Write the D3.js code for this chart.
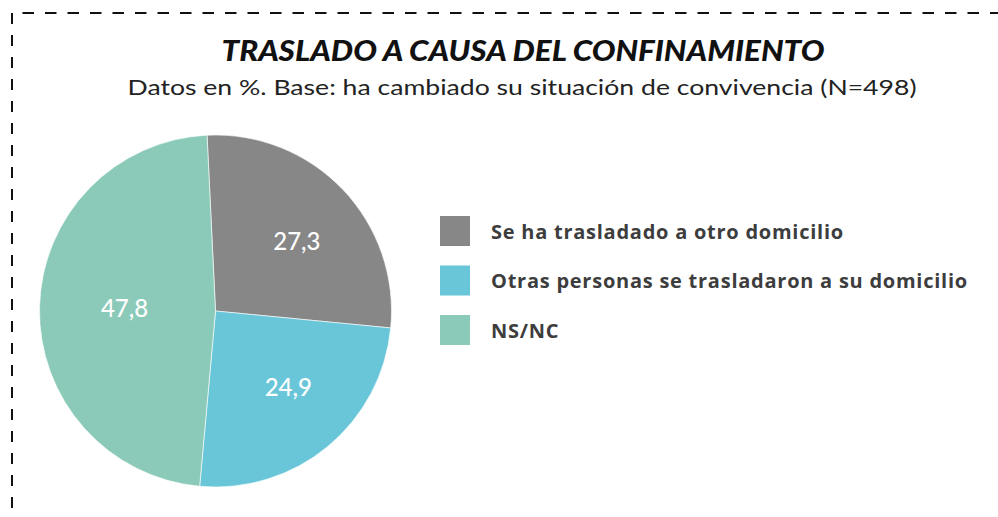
<!DOCTYPE html>
<html>
<head>
<meta charset="utf-8">
<script src="https://cdnjs.cloudflare.com/ajax/libs/d3/7.8.5/d3.min.js"></script>
<style>
  body { margin: 0; background: #fff; }
  svg { display: block; }
</style>
</head>
<body>
<div id="chart"></div>
<script>
var svgWidth = 998;
var svgHeight = 517;

// data
var categories = ["Se ha trasladado a otro domicilio",
                  "Otras personas se trasladaron a su domicilio",
                  "NS/NC"];
var values = [27.3, 24.9, 47.8];
var valueLabels = ["27,3", "24,9", "47,8"];
var colors = ["#878787", "#69c6d8", "#8bcab8"];

var title = "TRASLADO A CAUSA DEL CONFINAMIENTO";
var subtitle = "Datos en %. Base: ha cambiado su situación de convivencia (N=498)";

var svg = d3.select("#chart")
    .append("svg")
    .attr("width", svgWidth)
    .attr("height", svgHeight);

// dashed frame (left + top only visible)
svg.append("line")
    .attr("x1", 12).attr("y1", 13)
    .attr("x2", 12).attr("y2", svgHeight + 10)
    .attr("stroke", "#111")
    .attr("stroke-width", 2)
    .attr("stroke-dasharray", "11,11");

svg.append("line")
    .attr("x1", 22.5).attr("y1", 13)
    .attr("x2", svgWidth + 10).attr("y2", 13)
    .attr("stroke", "#111")
    .attr("stroke-width", 2)
    .attr("stroke-dasharray", "11.5,11");

// titles
svg.append("text")
    .attr("x", 523)
    .attr("y", 61)
    .attr("text-anchor", "middle")
    .attr("textLength", 603)
    .attr("lengthAdjust", "spacingAndGlyphs")
    .style("font-family", "Lato, sans-serif")
    .style("font-weight", "900")
    .style("font-style", "italic")
    .style("font-size", "28px")
    .style("fill", "#111")
    .text(title);

svg.append("text")
    .attr("x", 522)
    .attr("y", 95)
    .attr("text-anchor", "middle")
    .attr("textLength", 789)
    .attr("lengthAdjust", "spacingAndGlyphs")
    .style("font-family", "Lato, sans-serif")
    .style("font-weight", "400")
    .style("font-size", "22px")
    .style("fill", "#222")
    .text(subtitle);

// pie
var radius = 176;
var pieG = svg.append("g")
    .attr("transform", "translate(215.5, 311)");

var pie = d3.pie()
    .sort(null)
    .startAngle(-0.048)
    .endAngle(2 * Math.PI - 0.048)
    .value(d => d);

var arc = d3.arc().innerRadius(0).outerRadius(radius);
var labelArc = d3.arc().innerRadius(100).outerRadius(100);

var arcs = pie(values);

pieG.selectAll("path")
    .data(arcs)
    .enter()
    .append("path")
    .attr("d", arc)
    .attr("fill", (d, i) => colors[i])
    .attr("stroke", "#fff")
    .attr("stroke-width", 0.6);

pieG.selectAll(".sliceLabel")
    .data(arcs)
    .enter()
    .append("text")
    .attr("class", "sliceLabel")
    .attr("transform", d => "translate(" + labelArc.centroid(d) + ")")
    .attr("dx", 9)
    .attr("dy", "0.35em")
    .attr("text-anchor", "middle")
    .style("font-family", "Lato, sans-serif")
    .style("font-weight", "500")
    .style("font-size", "24px")
    .style("fill", "#fff")
    .text((d, i) => valueLabels[i]);

// legend
var legend = svg.append("g")
    .attr("transform", "translate(440, 216)");

var legendItems = legend.selectAll(".legendItem")
    .data(categories)
    .enter()
    .append("g")
    .attr("class", "legendItem")
    .attr("transform", (d, i) => "translate(0," + (i * 49.5) + ")");

legendItems.append("rect")
    .attr("width", 30)
    .attr("height", 30)
    .attr("fill", (d, i) => colors[i]);

legendItems.append("text")
    .attr("x", 51)
    .attr("y", 15.5)
    .attr("dy", "0.35em")
    .style("font-family", "'Open Sans', sans-serif")
    .style("font-weight", "700")
    .style("font-size", "20px")
    .style("letter-spacing", "0.75px")
    .style("fill", "#3d3d3d")
    .text(d => d);
</script>
</body>
</html>
